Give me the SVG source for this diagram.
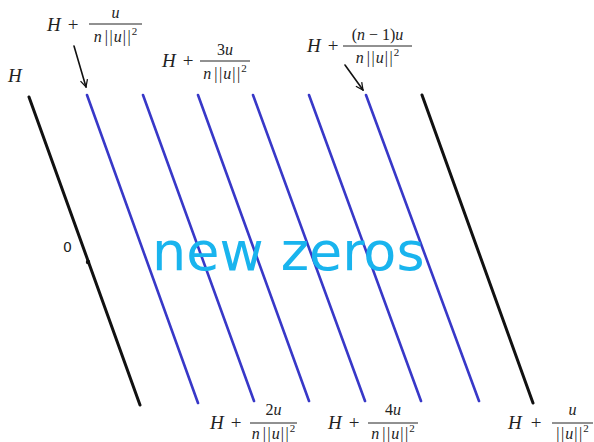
<svg xmlns="http://www.w3.org/2000/svg" width="594" height="442" viewBox="0 0 594 442">
<style>
.bk{stroke:#111;stroke-width:3;fill:none;stroke-linecap:round}
.bl{stroke:#3838c8;stroke-width:2.6;fill:none;stroke-linecap:round}
.ar{stroke:#111;stroke-width:1.6;fill:none;stroke-linecap:round;stroke-linejoin:round}
.m{font-family:"Liberation Serif","DejaVu Serif",serif;fill:#222}
.big{font-size:19px;font-style:italic}
.op{font-size:19px;font-style:normal}
.f{font-size:16px;font-style:italic}
.up{font-style:normal}
.sup{font-style:normal;font-size:11px}
.bar{stroke:#222;stroke-width:1}
</style>
<defs>
<marker id="ah" viewBox="0 0 10 10" refX="9" refY="5" markerWidth="9" markerHeight="9" orient="auto" markerUnits="userSpaceOnUse">
<path d="M1,1 L9,5 L1,9" fill="none" stroke="#111" stroke-width="1.4"/>
</marker>
</defs>
<g id="connectors">
<line class="bk" x1="29" y1="97" x2="140" y2="405"/>
<line class="bl" x1="87" y1="95" x2="198" y2="403"/>
<line class="bl" x1="143" y1="95" x2="254" y2="401"/>
<line class="bl" x1="198" y1="95" x2="309" y2="401"/>
<line class="bl" x1="253" y1="95" x2="365" y2="401"/>
<line class="bl" x1="309" y1="95" x2="421" y2="401"/>
<line class="bl" x1="366" y1="95" x2="479" y2="401"/>
<line class="bk" x1="422" y1="95" x2="533" y2="403"/>
<line class="ar" x1="74" y1="46" x2="86" y2="87" marker-end="url(#ah)"/>
<line class="ar" x1="345" y1="65" x2="363" y2="90" marker-end="url(#ah)"/>
</g>
<g id="zero">
<circle cx="88" cy="262" r="2.2" fill="#111"/>
<text x="63" y="252" style="font-family:'DejaVu Sans',sans-serif;font-size:14px;fill:#222">0</text>
</g>
<g id="label-H">
<text class="m big" x="8" y="82">H</text>
</g>
<g id="label-1">
<text class="m big" x="47" y="31">H</text>
<text class="m op" x="73" y="31" text-anchor="middle">+</text>
<line class="bar" x1="89" y1="24" x2="142" y2="24"/>
<text class="m f" x="115.5" y="18" text-anchor="middle">u</text>
<text class="m f" x="115.5" y="42" text-anchor="middle">n<tspan class="up" dx="3">|</tspan><tspan class="up" dx="1.5">|</tspan><tspan dx="1">u</tspan><tspan class="up" dx="1">|</tspan><tspan class="up" dx="1.5">|</tspan><tspan class="sup" dx="1" dy="-7">2</tspan></text>
</g>
<g id="label-3">
<text class="m big" x="162" y="67">H</text>
<text class="m op" x="188" y="67" text-anchor="middle">+</text>
<line class="bar" x1="200" y1="61" x2="250" y2="61"/>
<text class="m f" x="225" y="55" text-anchor="middle"><tspan class="up">3</tspan>u</text>
<text class="m f" x="225" y="79" text-anchor="middle">n<tspan class="up" dx="3">|</tspan><tspan class="up" dx="1.5">|</tspan><tspan dx="1">u</tspan><tspan class="up" dx="1">|</tspan><tspan class="up" dx="1.5">|</tspan><tspan class="sup" dx="1" dy="-7">2</tspan></text>
</g>
<g id="label-n1">
<text class="m big" x="307" y="52">H</text>
<text class="m op" x="333" y="52" text-anchor="middle">+</text>
<line class="bar" x1="343" y1="46" x2="412" y2="46"/>
<text class="m f" x="377.5" y="40" text-anchor="middle"><tspan class="up">(</tspan>n <tspan class="up">− 1)</tspan>u</text>
<text class="m f" x="377.5" y="63" text-anchor="middle">n<tspan class="up" dx="3">|</tspan><tspan class="up" dx="1.5">|</tspan><tspan dx="1">u</tspan><tspan class="up" dx="1">|</tspan><tspan class="up" dx="1.5">|</tspan><tspan class="sup" dx="1" dy="-7">2</tspan></text>
</g>
<g id="label-2">
<text class="m big" x="210" y="429">H</text>
<text class="m op" x="236" y="429" text-anchor="middle">+</text>
<line class="bar" x1="250" y1="423" x2="297" y2="423"/>
<text class="m f" x="273.5" y="415" text-anchor="middle"><tspan class="up">2</tspan>u</text>
<text class="m f" x="273.5" y="439" text-anchor="middle">n<tspan class="up" dx="3">|</tspan><tspan class="up" dx="1.5">|</tspan><tspan dx="1">u</tspan><tspan class="up" dx="1">|</tspan><tspan class="up" dx="1.5">|</tspan><tspan class="sup" dx="1" dy="-7">2</tspan></text>
</g>
<g id="label-4">
<text class="m big" x="328" y="429">H</text>
<text class="m op" x="354" y="429" text-anchor="middle">+</text>
<line class="bar" x1="368" y1="423" x2="418" y2="423"/>
<text class="m f" x="393" y="415" text-anchor="middle"><tspan class="up">4</tspan>u</text>
<text class="m f" x="393" y="439" text-anchor="middle">n<tspan class="up" dx="3">|</tspan><tspan class="up" dx="1.5">|</tspan><tspan dx="1">u</tspan><tspan class="up" dx="1">|</tspan><tspan class="up" dx="1.5">|</tspan><tspan class="sup" dx="1" dy="-7">2</tspan></text>
</g>
<g id="label-full">
<text class="m big" x="508" y="429">H</text>
<text class="m op" x="536" y="429" text-anchor="middle">+</text>
<line class="bar" x1="552" y1="423" x2="593" y2="423"/>
<text class="m f" x="572.5" y="415" text-anchor="middle">u</text>
<text class="m f" x="572.5" y="439" text-anchor="middle"><tspan class="up">|</tspan><tspan class="up" dx="1.5">|</tspan><tspan dx="1">u</tspan><tspan class="up" dx="1">|</tspan><tspan class="up" dx="1.5">|</tspan><tspan class="sup" dx="1" dy="-7">2</tspan></text>
</g>
<g id="new-zeros">
<text x="152" y="270" style="font-family:'DejaVu Sans',sans-serif;font-size:54px;fill:#19b4ee">new zeros</text>
</g>
</svg>
